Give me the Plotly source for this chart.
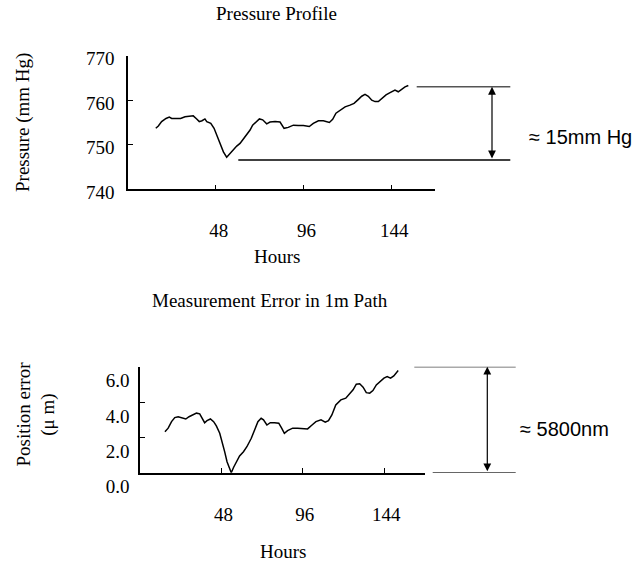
import plotly.graph_objects as go

# ---- data ----
hours_p = [15.2, 16.6, 18.4, 20.8, 22.6, 23.9, 26.7, 28.8, 31.2, 33.9, 35.7, 37.6, 39.0, 40.5, 42.1,
           43.1, 45.3, 47.1, 48.5, 50.4, 52.2, 54.0, 55.4, 57.3, 59.5, 61.3, 63.1, 65.0, 66.8, 68.2,
           70.1, 71.9, 73.7, 75.9, 77.7, 80.5, 83.2, 85.4, 87.7, 90.5, 93.2, 96.0, 99.2, 101.4,
           104.2, 106.9, 110.2, 112.0, 113.8, 116.0, 118.8, 121.5, 123.7, 126.1, 127.9, 129.7,
           131.5, 133.4, 135.2, 137.0, 138.9, 141.2, 143.4, 146.1, 147.9, 149.8, 151.6, 153.4]
pressure = [753.7, 754.2, 755.2, 755.9, 756.2, 755.9, 755.9, 755.9, 756.3, 756.5, 756.5, 755.8, 755.2,
            755.4, 755.8, 755.2, 754.8, 753.7, 752.2, 750.3, 748.4, 747.2, 747.9, 748.8, 749.7,
            750.3, 751.2, 752.2, 753.3, 754.4, 755.2, 755.8, 755.6, 754.7, 755.1, 755.2, 755.1,
            753.7, 753.9, 754.4, 754.3, 754.3, 754.1, 754.8, 755.4, 755.4, 755.0, 755.7, 757.1,
            757.8, 758.5, 758.9, 759.3, 760.2, 760.9, 761.3, 760.9, 760.0, 759.7, 759.7, 760.4,
            761.2, 761.7, 762.3, 761.9, 762.5, 763.0, 763.3]

hours_e = [14.7, 16.6, 18.6, 20.5, 22.5, 24.4, 27.0, 28.9, 31.3, 33.3, 35.2, 36.8, 38.1, 39.5, 41.5,
           43.4, 45.0, 47.0, 48.5, 49.9, 51.3, 52.8, 53.8, 55.2, 56.7, 58.7, 61.0, 63.0, 65.6,
           67.5, 69.5, 71.4, 72.8, 74.8, 76.8, 79.3, 81.8, 83.5, 85.1, 87.0, 90.0, 92.9, 95.9,
           98.8, 101.4, 103.7, 106.7, 109.2, 111.1, 113.1, 115.4, 118.4, 121.3, 123.7, 125.6,
           127.5, 129.5, 131.5, 133.4, 135.4, 137.3, 139.3, 141.3, 143.8, 145.7, 147.7, 149.6,
           151.0, 152.2]
pos_error = [2.32, 2.52, 2.89, 3.12, 3.17, 3.12, 3.04, 3.17, 3.27, 3.37, 3.33, 3.08, 2.83, 2.95, 3.04,
             2.89, 2.65, 2.23, 1.76, 1.19, 0.62, 0.25, 0.0, 0.31, 0.62, 0.95, 1.19, 1.47, 1.95,
             2.46, 2.89, 3.08, 2.99, 2.70, 2.83, 2.83, 2.80, 2.52, 2.23, 2.38, 2.52, 2.52, 2.52,
             2.48, 2.70, 2.89, 2.99, 2.86, 2.95, 3.27, 3.84, 4.12, 4.22, 4.50, 4.69, 5.01, 5.03,
             4.84, 4.53, 4.50, 4.65, 4.97, 5.16, 5.35, 5.44, 5.35, 5.48, 5.67, 5.78]

x_ticks = [48, 96, 144]
x_tick_labels = ["48", "96", "144"]
p_ticks = [740, 750, 760, 770]
e_ticks = [0, 2, 4, 6]
e_tick_labels = ["0.0", "2.0", "4.0", "6.0"]

p_span = [746.6, 763.0]   # pressure excursion markers
e_span = [0.0, 6.0]       # error excursion markers

W, H = 637, 564
SERIF = "Liberation Serif, Times New Roman, serif"
SANS = "Liberation Sans, Arial, sans-serif"


def px(v):
    return v / W


def py(v):
    return 1 - v / H


fig = go.Figure()
fig.add_trace(go.Scatter(x=hours_p, y=pressure, mode="lines",
                         line=dict(color="black", width=1.5), xaxis="x", yaxis="y"))
fig.add_trace(go.Scatter(x=hours_e, y=pos_error, mode="lines",
                         line=dict(color="black", width=1.5), xaxis="x2", yaxis="y2"))

axis_common = dict(showgrid=False, zeroline=False, showline=True, linecolor="black", linewidth=1.5,
                   ticks="inside", ticklen=5, tickcolor="black", tickwidth=1.2, automargin=False,
                   tickfont=dict(family=SERIF, size=19, color="black"))

fig.update_layout(
    template="none",
    width=W, height=H, margin=dict(l=0, r=0, t=0, b=0, pad=0), autosize=False,
    paper_bgcolor="white", plot_bgcolor="white", showlegend=False,
    xaxis=dict(domain=[px(128), px(435)], range=[0, 168], anchor="y",
               tickvals=x_ticks, ticktext=x_tick_labels, ticklabelstandoff=23, ticklabelshift=3,
               **axis_common),
    yaxis=dict(domain=[py(189.3), py(55.7)], range=[740, 770], anchor="x",
               tickvals=p_ticks, ticklabelstandoff=8, ticklabelshift=3, **axis_common),
    xaxis2=dict(domain=[px(140), px(425)], range=[0, 168], anchor="y2",
                tickvals=x_ticks, ticktext=x_tick_labels, ticklabelstandoff=24, ticklabelshift=2,
                **axis_common),
    yaxis2=dict(domain=[py(472.7), py(366.7)], range=[0, 6], anchor="x2",
                tickvals=e_ticks, ticktext=e_tick_labels, ticklabelstandoff=5, ticklabelshift=14,
                **axis_common),
)

shapes = [
    dict(type="line", xref="paper", yref="y", x0=px(416.7), x1=px(510.3), y0=p_span[1], y1=p_span[1],
         line=dict(color="#555555", width=1.5)),
    dict(type="line", xref="paper", yref="y", x0=px(238.3), x1=px(510.3), y0=p_span[0], y1=p_span[0],
         line=dict(color="black", width=1.5)),
    dict(type="line", xref="paper", yref="y2", x0=px(414.3), x1=px(515.7), y0=e_span[1], y1=e_span[1],
         line=dict(color="#555555", width=1.5)),
    dict(type="line", xref="paper", yref="y2", x0=px(432.7), x1=px(515.7), y0=e_span[0], y1=e_span[0],
         line=dict(color="#333333", width=1.5)),
]
fig.update_layout(shapes=shapes)

ann = []
# double-headed arrows
ann.append(dict(xref="paper", yref="y", x=px(492), y=p_span[1], axref="pixel", ayref="y", ax=0, ay=p_span[0],
                text="", showarrow=True, arrowside="end+start", arrowhead=2, startarrowhead=2,
                arrowsize=1.3, startarrowsize=1.3, arrowwidth=1.2, arrowcolor="black",
                standoff=0, startstandoff=0))
ann.append(dict(xref="paper", yref="y2", x=px(487.3), y=e_span[1], axref="pixel", ayref="y2", ax=0, ay=e_span[0],
                text="", showarrow=True, arrowside="end+start", arrowhead=2, startarrowhead=2,
                arrowsize=1.3, startarrowsize=1.3, arrowwidth=1.2, arrowcolor="black",
                standoff=0, startstandoff=0))


def txt(s, x, y, font, size, xanchor="center", angle=0):
    return dict(xref="paper", yref="paper", x=px(x), y=py(y), text=s, showarrow=False,
                xanchor=xanchor, yanchor="middle", textangle=angle,
                font=dict(family=font, size=size, color="black"))


ann += [
    txt("Pressure Profile", 276, 14, SERIF, 19),
    txt("Hours", 276.7, 256.7, SERIF, 19),
    txt("Pressure (mm Hg)", 23, 123, SERIF, 19, angle=-90),
    txt("≈ 15mm Hg", 527, 137.3, SANS, 20, xanchor="left"),
    txt("Measurement Error in 1m Path", 270.3, 300, SERIF, 19),
    txt("Hours", 283.3, 551.7, SERIF, 19),
    txt("Position error<br>(μ m)", 35.5, 414, SERIF, 19, angle=-90),
    txt("≈ 5800nm", 518.3, 429, SANS, 20, xanchor="left"),
]
fig.update_layout(annotations=ann)

fig.write_html("out.html", config={"displayModeBar": False},
               post_script="document.body.style.margin='0px';")
